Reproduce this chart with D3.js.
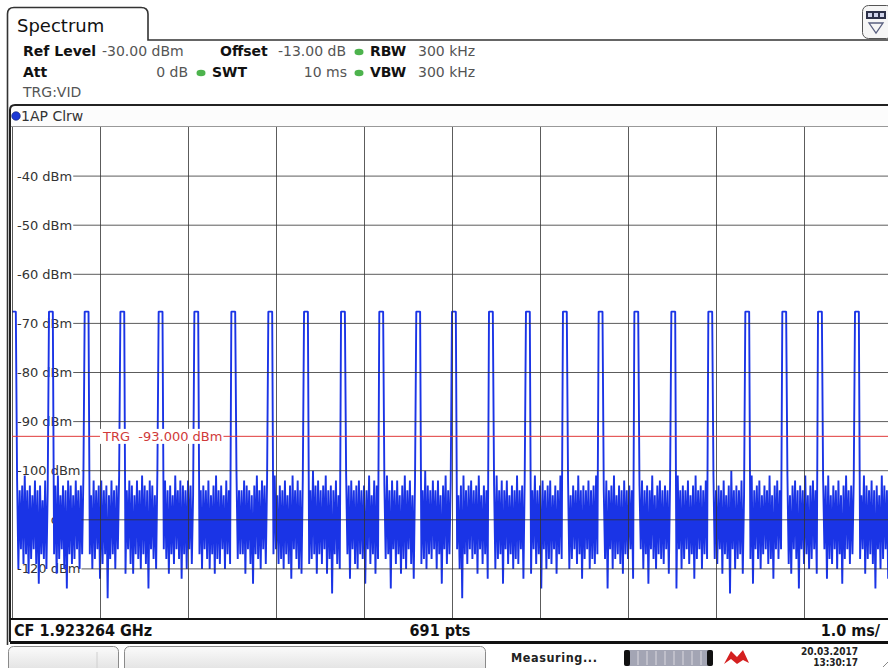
<!DOCTYPE html>
<html>
<head>
<meta charset="utf-8">
<script src="https://cdn.jsdelivr.net/npm/d3@7"></script>
<style>
  body { margin: 0; background: #fff; }
  svg { display: block; font-family: "DejaVu Sans", sans-serif; }
</style>
</head>
<body>
<div id="chart"></div>
<script>
// ---- data ----
const yTicks = [-40, -50, -60, -70, -80, -90, -100, -110, -120];
const sweepMs = 10;
const nPts = 691;
const triggerDbm = -93;
const pulseTopDbm = -67.6;
// centre time of each burst (ms)
const pulseTimesMs = [0.01, 0.43, 0.84, 1.25, 1.68, 2.09, 2.50, 2.93, 3.34, 3.76, 4.19, 4.61,
  5.01, 5.43, 5.85, 6.27, 6.68, 7.09, 7.51, 7.93, 8.35, 8.77, 9.18, 9.60];
// noise floor samples (dBm), one per sweep point
const noiseDbm = [
  -103,-118,-105,-117,-102,-120,-104,-116,-103,-119,-101,-117,-104,-121,-103,-118,-105,-116,-102,-119,-104,-123,-103,-117,-106,-118,-102,-120,-104,-117,
  -102,-119,-104,-117,-103,-121,-101,-118,-105,-116,-103,-120,-104,-124,-102,-117,-103,-119,-105,-118,-102,-116,-104,-120,-103,-117,-101,-119,-104,-118,
  -103,-117,-105,-120,-102,-118,-104,-116,-103,-122,-102,-119,-104,-117,-103,-126,-105,-118,-102,-117,-104,-120,-103,-116,-101,-119,-105,-118,-103,-121,
  -104,-116,-102,-119,-103,-121,-105,-117,-102,-118,-104,-120,-101,-117,-103,-119,-104,-124,-102,-116,-103,-118,-105,-120,-100,-117,-103,-119,-104,-116,
  -102,-118,-104,-121,-103,-117,-105,-119,-101,-116,-104,-118,-102,-122,-103,-117,-104,-120,-102,-116,-103,-119,-105,-125,-102,-118,-101,-117,-104,-120,
  -103,-116,-104,-118,-102,-120,-105,-117,-103,-121,-101,-118,-104,-119,-103,-116,-105,-120,-102,-117,-104,-119,-103,-116,-102,-120,-100,-118,-104,-117,
  -104,-117,-102,-121,-103,-116,-104,-119,-105,-123,-103,-117,-101,-118,-104,-120,-102,-116,-103,-119,-102,-118,-104,-122,-103,-117,-101,-116,-105,-119,
  -103,-118,-104,-120,-102,-117,-105,-119,-103,-122,-101,-116,-104,-118,-102,-120,-104,-121,-102,-117,-103,-116,-103,-119,-104,-118,-100,-117,-103,-121,
  -102,-117,-104,-119,-103,-116,-101,-121,-104,-118,-103,-125,-104,-117,-102,-119,-105,-120,-103,-116,-104,-118,-101,-117,-103,-122,-102,-116,-104,-119,
  -103,-120,-102,-117,-104,-118,-103,-123,-104,-116,-101,-119,-105,-117,-102,-121,-103,-118,-102,-116,-105,-120,-103,-118,-101,-117,-104,-124,-102,-116,
  -104,-119,-102,-117,-105,-121,-103,-118,-101,-120,-104,-116,-102,-119,-105,-122,-102,-117,-104,-116,-102,-119,-104,-118,-100,-120,-103,-117,-104,-118,
  -102,-116,-104,-120,-102,-117,-105,-123,-103,-116,-101,-119,-104,-117,-102,-121,-103,-118,-102,-116,-105,-120,-103,-126,-101,-117,-104,-119,-103,-116,
  -102,-118,-104,-117,-103,-121,-101,-116,-105,-119,-103,-117,-104,-122,-102,-118,-105,-116,-103,-120,-101,-118,-104,-117,-102,-123,-104,-116,-102,-119,
  -105,-117,-103,-120,-104,-118,-101,-119,-104,-116,-103,-122,-102,-117,-105,-118,-103,-121,-104,-116,-101,-119,-104,-117,-103,-124,-102,-116,-104,-120,
  -103,-118,-102,-119,-105,-116,-103,-121,-104,-117,-101,-118,-104,-123,-103,-116,-102,-120,-105,-118,-103,-116,-104,-119,-101,-117,-104,-122,-103,-118,
  -104,-116,-102,-120,-104,-118,-103,-119,-101,-117,-105,-121,-103,-116,-104,-118,-102,-124,-104,-116,-103,-120,-101,-118,-105,-117,-103,-119,-104,-121,
  -102,-117,-104,-118,-103,-116,-104,-122,-101,-118,-105,-119,-103,-116,-102,-120,-104,-117,-103,-123,-104,-116,-101,-118,-105,-120,-103,-117,-102,-118,
  -104,-119,-103,-116,-104,-121,-102,-117,-105,-118,-103,-124,-101,-116,-104,-120,-103,-118,-104,-116,-102,-119,-105,-117,-103,-122,-101,-118,-104,-116,
  -103,-120,-104,-117,-102,-118,-105,-116,-103,-122,-101,-118,-104,-119,-103,-116,-104,-121,-102,-117,-105,-118,-103,-125,-100,-116,-104,-120,-103,-118,
  -104,-117,-102,-121,-105,-116,-103,-119,-104,-118,-101,-123,-104,-116,-103,-118,-102,-120,-105,-117,-103,-116,-104,-119,-101,-118,-105,-122,-103,-116,
  -102,-118,-104,-116,-103,-120,-104,-117,-101,-119,-105,-121,-103,-116,-102,-118,-104,-124,-103,-116,-104,-119,-101,-117,-105,-120,-103,-118,-102,-116,
  -104,-121,-103,-117,-104,-118,-102,-116,-103,-122,-101,-118,-105,-119,-103,-116,-104,-120,-102,-117,-105,-123,-103,-118,-101,-116,-104,-119,-103,-117,
  -102,-116,-104,-120,-103,-118,-105,-116,-101,-121,-103,-118,-104,-117,-102,-119,-104,-124,-103,-116,-105,-120,-101,-118,-103,-116,-104,-122,-102,-118,
  -104
];

// ---- layout ----
const W = 888, H = 668;
const plot = { left: 12, right: 892, top: 127, bottom: 618 };

const x = d3.scaleLinear().domain([0, sweepMs]).range([plot.left, plot.right]);
const y = d3.scaleLinear().domain([-130, -30]).range([plot.bottom, plot.top]);

// trace = noise with the bursts on top (burst ~4 sweep points wide)
const trace = noiseDbm.slice();
pulseTimesMs.forEach((t) => {
  const c = Math.round((t * (nPts - 1)) / sweepMs);
  for (let k = c - 1; k <= c + 2; k++) if (k >= 0 && k < nPts) trace[k] = pulseTopDbm;
});

const svg = d3.select("#chart").append("svg").attr("width", W).attr("height", H);

const defs = svg.append("defs");
defs.append("clipPath").attr("id", "plotclip")
  .append("rect").attr("x", plot.left).attr("y", plot.top)
  .attr("width", W - plot.left).attr("height", plot.bottom - plot.top);
const grad = defs.append("linearGradient").attr("id", "btn").attr("x1", 0).attr("x2", 0).attr("y1", 0).attr("y2", 1);
grad.append("stop").attr("offset", "0%").attr("stop-color", "#fbfbfb");
grad.append("stop").attr("offset", "100%").attr("stop-color", "#dcdcdc");

svg.append("rect").attr("width", W).attr("height", H).attr("fill", "#fff");

// tab + outer frame
svg.append("path")
  .attr("d", "M7.5,645 V14 Q7.5,7.5 14,7.5 H141 Q148,7.5 148,14 V40 H888")
  .attr("fill", "none").attr("stroke", "#333").attr("stroke-width", 1.6);
svg.append("text").attr("x", 17).attr("y", 32).style("font-size", "18px").attr("fill", "#111").text("Spectrum");

// top-right icon
const icon = svg.append("g");
icon.append("rect").attr("x", 862.5).attr("y", 5.5).attr("width", 30).attr("height", 33).attr("rx", 6)
  .attr("fill", "#f6f6f6").attr("stroke", "#555");
icon.append("rect").attr("x", 866).attr("y", 11).attr("width", 20).attr("height", 8).attr("fill", "#2c3048");
[868, 874, 880].forEach((ix) =>
  icon.append("rect").attr("x", ix).attr("y", 13).attr("width", 4).attr("height", 4).attr("fill", "#cfd3ea"));
icon.append("path").attr("d", "M869,23 H883 L876,33 Z").attr("fill", "none").attr("stroke", "#5a6080").attr("stroke-width", 1.3);

// header settings
const hdr = svg.append("g").style("font-size", "14px");
function hText(tx, ty, s, bold, anchor) {
  hdr.append("text").attr("x", tx).attr("y", ty).text(s)
    .attr("text-anchor", anchor || "start")
    .attr("fill", bold ? "#111" : "#555")
    .style("font-weight", bold ? "bold" : "normal");
}
function dot(cx, cy) {
  hdr.append("ellipse").attr("cx", cx).attr("cy", cy).attr("rx", 4.5).attr("ry", 3.2).attr("fill", "#4db34d");
}
hText(23, 56, "Ref Level", true);
hText(102, 56, "-30.00 dBm", false);
hText(220, 56, "Offset", true);
hText(278, 56, "-13.00 dB", false);
dot(359, 52);
hText(370, 56, "RBW", true);
hText(418, 56, "300 kHz", false);
hText(23, 77, "Att", true);
hText(188, 77, "0 dB", false, "end");
dot(201, 73);
hText(212, 77, "SWT", true);
hText(347, 77, "10 ms", false, "end");
dot(359, 73);
hText(370, 77, "VBW", true);
hText(418, 77, "300 kHz", false);
hText(23, 97, "TRG:VID", false);

// trace-label row
svg.append("rect").attr("x", 10).attr("y", 105).attr("width", W).attr("height", 21).attr("fill", "#fcfcfc");
svg.append("line").attr("x1", 10).attr("x2", W).attr("y1", 126.5).attr("y2", 126.5).attr("stroke", "#999");
svg.append("circle").attr("cx", 16).attr("cy", 116).attr("r", 4.3).attr("fill", "#1d3ad6").attr("stroke", "#10206a").attr("stroke-width", 0.6);
svg.append("text").attr("x", 21).attr("y", 121).style("font-size", "14px").attr("fill", "#333").text("1AP Clrw");

// y labels (white boxes, under the trace)
const labelRight = {};
const gLab = svg.append("g").style("font-size", "13px");
yTicks.forEach((v) => {
  const t = gLab.append("text").attr("x", 17).attr("y", y(v)).attr("dy", "0.35em").attr("fill", "#333").text(`${v} dBm`);
  const bb = t.node().getBBox();
  gLab.insert("rect", "text").attr("x", 14).attr("y", bb.y - 1).attr("width", bb.x + bb.width - 12).attr("height", bb.height + 2).attr("fill", "#fff");
  labelRight[v] = bb.x + bb.width + 1;
});

// trace
const line = d3.line().x((d, i) => x((i * sweepMs) / (nPts - 1))).y((d) => y(d));
svg.append("path").datum(trace)
  .attr("clip-path", "url(#plotclip)")
  .attr("fill", "none").attr("stroke", "#1a34e6").attr("stroke-width", 1.9)
  .attr("stroke-linejoin", "bevel")
  .attr("d", line);

// grid on top
const gx = svg.append("g").attr("transform", `translate(0,${plot.bottom})`)
  .call(d3.axisBottom(x).ticks(10).tickSize(-(plot.bottom - plot.top)).tickFormat(""));
gx.select(".domain").remove();
gx.selectAll(".tick line").attr("stroke", "#333").attr("stroke-opacity", 0.8);
svg.append("g").selectAll("line").data(yTicks).join("line")
  .attr("x1", (d) => labelRight[d]).attr("x2", W)
  .attr("y1", (d) => y(d)).attr("y2", (d) => y(d))
  .attr("stroke", "#333").attr("stroke-opacity", 0.8);

// trigger level
svg.append("line").attr("x1", plot.left).attr("x2", W).attr("y1", y(triggerDbm)).attr("y2", y(triggerDbm))
  .attr("stroke", "#e03a3a").attr("stroke-width", 1);
const trg = svg.append("text").attr("x", 103).attr("y", y(triggerDbm)).attr("dy", "0.35em")
  .style("font-size", "13px").attr("fill", "#d03a3a").attr("xml:space", "preserve").text("TRG  -93.000 dBm");
const tb = trg.node().getBBox();
svg.insert("rect", () => trg.node()).attr("x", tb.x - 2).attr("y", tb.y).attr("width", tb.width + 3).attr("height", tb.height).attr("fill", "#fff");

// panel frame
svg.append("path")
  .attr("d", `M10,642 V110 Q10,105 15,105 H${W}`)
  .attr("fill", "none").attr("stroke", "#222").attr("stroke-width", 2);

// bottom info bar
svg.append("rect").attr("x", 11).attr("y", 619).attr("width", W).attr("height", 22).attr("fill", "#fff");
svg.append("line").attr("x1", 10).attr("x2", W).attr("y1", 619).attr("y2", 619).attr("stroke", "#111").attr("stroke-width", 2);
svg.append("line").attr("x1", 10).attr("x2", W).attr("y1", 642.5).attr("y2", 642.5).attr("stroke", "#111").attr("stroke-width", 3);
const bar = svg.append("g").style("font-family", "'DejaVu Sans Condensed', 'DejaVu Sans', sans-serif")
  .style("font-stretch", "condensed").style("font-weight", "bold").style("font-size", "16px").attr("fill", "#111");
bar.append("text").attr("x", 14).attr("y", 636).text("CF 1.923264 GHz");
bar.append("text").attr("x", 440).attr("y", 636).attr("text-anchor", "middle").text("691 pts");
bar.append("text").attr("x", 880).attr("y", 636).attr("text-anchor", "end").text("1.0 ms/");

// status bar
const st = svg.append("g");
st.append("rect").attr("x", 8.5).attr("y", 646.5).attr("width", 110).attr("height", 30).attr("rx", 5)
  .attr("fill", "url(#btn)").attr("stroke", "#8a8a8a");
st.append("line").attr("x1", 97).attr("x2", 97).attr("y1", 652).attr("y2", 668).attr("stroke", "#d0d0d0");
st.append("rect").attr("x", 124.5).attr("y", 646.5).attr("width", 361).attr("height", 30).attr("rx", 5)
  .attr("fill", "url(#btn)").attr("stroke", "#8a8a8a");
const stTxt = st.append("g").style("font-family", "'DejaVu Sans Condensed', 'DejaVu Sans', sans-serif")
  .style("font-stretch", "condensed").style("font-weight", "bold").attr("fill", "#222");
stTxt.append("text").attr("x", 511).attr("y", 662).style("font-size", "12.5px").style("letter-spacing", "0.6px").text("Measuring...");
stTxt.append("text").attr("x", 858).attr("y", 655).attr("text-anchor", "end").style("font-size", "10px").text("20.03.2017");
stTxt.append("text").attr("x", 858).attr("y", 666).attr("text-anchor", "end").style("font-size", "10px").text("13:30:17");
// progress bar
st.append("rect").attr("x", 624).attr("y", 650).attr("width", 89).attr("height", 16).attr("rx", 3).attr("fill", "#a3a5b4");
st.append("rect").attr("x", 624).attr("y", 650).attr("width", 6).attr("height", 16).attr("rx", 2).attr("fill", "#111");
st.append("rect").attr("x", 707).attr("y", 650).attr("width", 6).attr("height", 16).attr("rx", 2).attr("fill", "#111");
d3.range(638, 706, 9).forEach((sx) =>
  st.append("line").attr("x1", sx).attr("x2", sx).attr("y1", 651).attr("y2", 665).attr("stroke", "#c8c9d2").attr("stroke-width", 1.5));
// red overload icon
st.append("path").attr("d", "M724,664 L731,651 L737,657 L743,650 L749,663 L743,660 L737,664 L731,659 Z")
  .attr("fill", "#d42020");
st.append("path").attr("d", "M883,667 L888,662").attr("stroke", "#888");
</script>
</body>
</html>
